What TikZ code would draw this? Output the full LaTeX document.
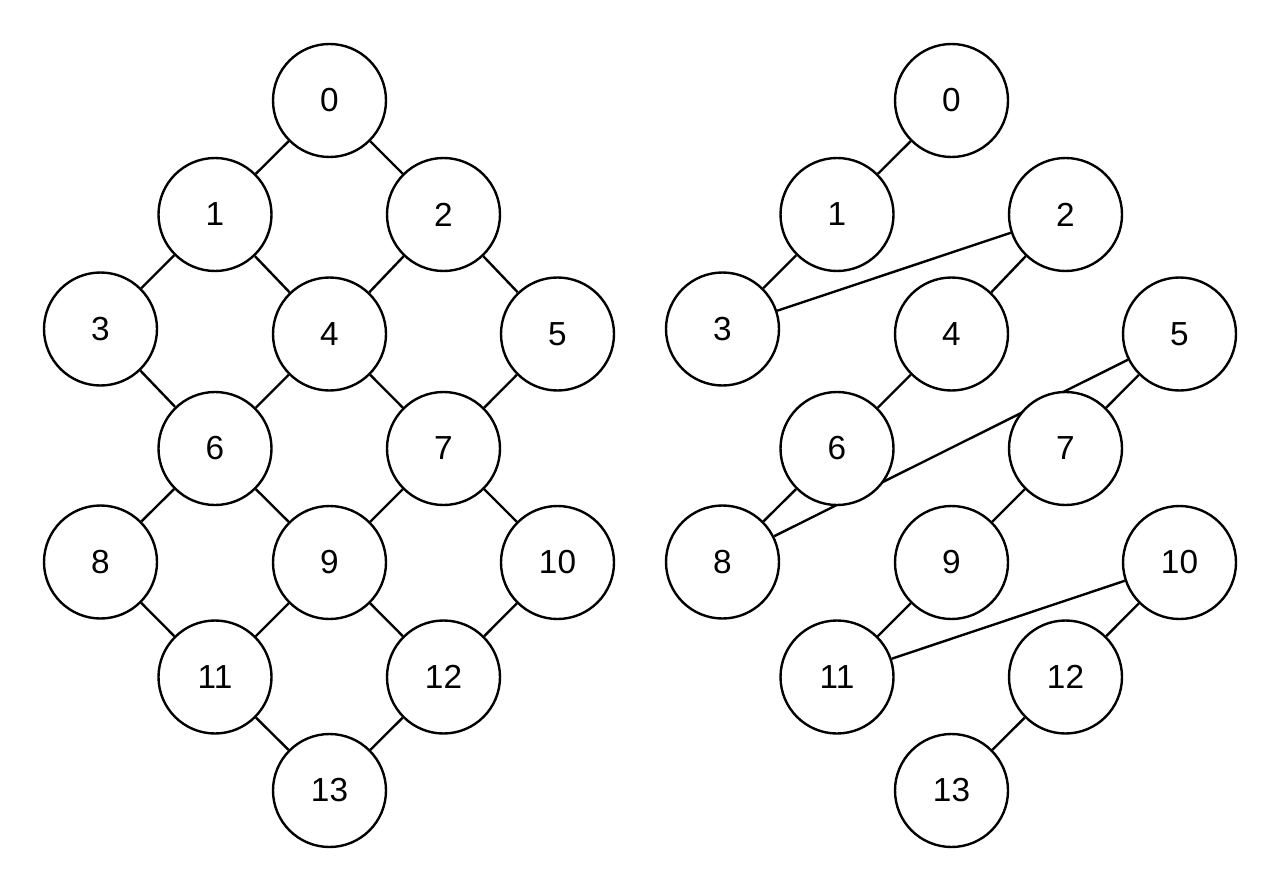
\documentclass[tikz,border=0pt]{standalone}
\usepackage{fontspec}
\setmainfont{Liberation Sans}
\usetikzlibrary{backgrounds}
\begin{document}
\begin{tikzpicture}[x = .75pt, y = -.75pt,
	vert/.style = {draw, circle, fill = white, line width = 1.8pt, minimum size = 84.75pt, inner sep = 0pt, font = \fontsize{25}{25}\selectfont},
	edge/.style = {line width = 1.8pt}]
	\useasboundingbox (0,0) rectangle (1280,891);
	% lattice
	\node[vert] (l0) at (329.5,100.5) {0};
	\node[vert] (l1) at (215,214.5) {1};
	\node[vert] (l2) at (443.5,214.5) {2};
	\node[vert] (l3) at (100.5,329) {3};
	\node[vert] (l4) at (329.5,334) {4};
	\node[vert] (l5) at (557.5,334) {5};
	\node[vert] (l6) at (215,448.5) {6};
	\node[vert] (l7) at (443.5,448.5) {7};
	\node[vert] (l8) at (100.5,562) {8};
	\node[vert] (l9) at (329.5,562.5) {9};
	\node[vert] (l10) at (557.5,562.5) {10};
	\node[vert] (l11) at (215,677) {11};
	\node[vert] (l12) at (443.5,677) {12};
	\node[vert] (l13) at (329.5,790.5) {13};
	% tree
	\node[vert] (r0) at (951.5,100.5) {0};
	\node[vert] (r1) at (837,214.5) {1};
	\node[vert] (r2) at (1065.5,214.5) {2};
	\node[vert] (r3) at (722.5,329) {3};
	\node[vert] (r4) at (951.5,334) {4};
	\node[vert] (r5) at (1179.5,334) {5};
	\node[vert] (r6) at (837,448.5) {6};
	\node[vert] (r7) at (1065.5,448.5) {7};
	\node[vert] (r8) at (722.5,562) {8};
	\node[vert] (r9) at (951.5,562.5) {9};
	\node[vert] (r10) at (1179.5,562.5) {10};
	\node[vert] (r11) at (837,677) {11};
	\node[vert] (r12) at (1065.5,677) {12};
	\node[vert] (r13) at (951.5,790.5) {13};
	\begin{pgfonlayer}{background}
		\draw[edge] (l0) -- (l1) (l0) -- (l2);
		\draw[edge] (l1) -- (l3) (l1) -- (l4) (l2) -- (l4) (l2) -- (l5);
		\draw[edge] (l3) -- (l6) (l4) -- (l6) (l4) -- (l7) (l5) -- (l7);
		\draw[edge] (l6) -- (l8) (l6) -- (l9) (l7) -- (l9) (l7) -- (l10);
		\draw[edge] (l8) -- (l11) (l9) -- (l11) (l9) -- (l12) (l10) -- (l12);
		\draw[edge] (l11) -- (l13) (l12) -- (l13);
		% tree edges, some pass under other vertices
		\draw[edge] (r0) -- (r1) (r1) -- (r3) (r2) -- (r3) (r2) -- (r4);
		\draw[edge] (r4) -- (r6) (r6) -- (r8) (r5) -- (r8) (r5) -- (r7);
		\draw[edge] (r7) -- (r9) (r9) -- (r11) (r10) -- (r11) (r10) -- (r12);
		\draw[edge] (r12) -- (r13);
	\end{pgfonlayer}
\end{tikzpicture}
\end{document}
